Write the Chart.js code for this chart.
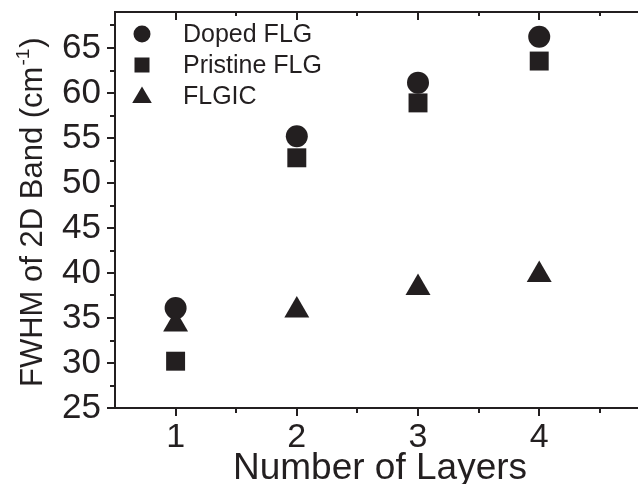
<!DOCTYPE html>
<html><head><meta charset="utf-8">
<script src="https://cdn.jsdelivr.net/npm/chart.js@4"></script>
<style>html,body{margin:0;padding:0;background:#fff}</style>
</head><body>
<canvas id="c" width="638" height="484"></canvas>
<script>
const layers = [1, 2, 3, 4];
const dopedFLG = [36.1, 55.2, 61.15, 66.25];
const pristineFLG = [30.2, 52.8, 58.9, 63.55];
const flgic = [34.3, 35.85, 38.35, 39.8];
const seriesNames = ['Doped FLG', 'Pristine FLG', 'FLGIC'];
const xMajorTicks = [1, 2, 3, 4];
const xMinorTicks = [1.5, 2.5, 3.5, 4.5];
const yMajorTicks = [25, 30, 35, 40, 45, 50, 55, 60, 65];
const yMinorTicks = [27.5, 32.5, 37.5, 42.5, 47.5, 52.5, 57.5, 62.5, 67.5];

const INK = '#231f20';
const FONT = '"Liberation Sans", Arial, Helvetica, sans-serif';

function pts(vals){ return layers.map((x,i)=>({x:x, y:vals[i]})); }

const frame = {
  id: 'frame',
  afterLayout(chart){
    const a = chart.chartArea, xs = chart.scales.x, ys = chart.scales.y;
    a.left = 115; a.top = 12; a.right = 638; a.bottom = 408;
    a.width = a.right - a.left; a.height = a.bottom - a.top;
    xs.left = 115; xs.right = 638; xs.width = xs.right - xs.left; xs.configure();
    ys.top = 12; ys.bottom = 408; ys.height = ys.bottom - ys.top; ys.configure();
  }
};

const decor = {
  id: 'decor',
  afterDraw(chart){
    const ctx = chart.ctx, a = chart.chartArea;
    const xs = chart.scales.x, ys = chart.scales.y;
    ctx.save();
    ctx.strokeStyle = INK; ctx.lineWidth = 2; ctx.lineCap = 'butt';
    ctx.beginPath();
    ctx.moveTo(a.left, a.top - 1); ctx.lineTo(a.left, a.bottom + 1);
    ctx.moveTo(a.left - 1, a.bottom); ctx.lineTo(638, a.bottom);
    ctx.moveTo(a.left - 1, a.top); ctx.lineTo(638, a.top);
    ctx.stroke();
    ctx.beginPath();
    xMajorTicks.forEach(v=>{ const p = Math.round(xs.getPixelForValue(v));
      ctx.moveTo(p, a.bottom); ctx.lineTo(p, a.bottom + 8);
      ctx.moveTo(p, a.top); ctx.lineTo(p, a.top + 8); });
    xMinorTicks.forEach(v=>{ const p = Math.round(xs.getPixelForValue(v));
      ctx.moveTo(p, a.bottom); ctx.lineTo(p, a.bottom + 5);
      ctx.moveTo(p, a.top); ctx.lineTo(p, a.top + 4); });
    yMajorTicks.forEach(v=>{ const p = Math.round(ys.getPixelForValue(v));
      ctx.moveTo(a.left, p); ctx.lineTo(a.left - 8, p); });
    yMinorTicks.forEach(v=>{ const p = Math.round(ys.getPixelForValue(v));
      ctx.moveTo(a.left, p); ctx.lineTo(a.left - 5, p); });
    ctx.stroke();

    ctx.fillStyle = INK;
    ctx.textBaseline = 'alphabetic';
    ctx.font = '37px ' + FONT;
    ctx.textAlign = 'center';
    ctx.fillText('Number of Layers', 380, 479);

    ctx.save();
    ctx.translate(42, 387);
    ctx.rotate(-Math.PI/2);
    ctx.textAlign = 'left';
    ctx.font = '31px ' + FONT;
    const t1 = 'FWHM of 2D Band (cm';
    ctx.fillText(t1, 0, 0);
    let w = ctx.measureText(t1).width;
    ctx.font = '19px ' + FONT;
    ctx.fillText('-1', w + 1, -13);
    w += ctx.measureText('-1').width + 2;
    ctx.font = '31px ' + FONT;
    ctx.fillText(')', w, 0);
    ctx.restore();

    ctx.font = '25px ' + FONT;
    ctx.textAlign = 'left';
    ctx.textBaseline = 'middle';
    const rows = [34, 65, 96];
    const mx = 142;
    ctx.beginPath(); ctx.arc(mx, rows[0], 8.5, 0, Math.PI*2); ctx.fill();
    ctx.fillRect(mx - 7.5, rows[1] - 7.5, 15, 15);
    ctx.beginPath();
    ctx.moveTo(mx, rows[2] - 9.5); ctx.lineTo(mx + 9.8, rows[2] + 7); ctx.lineTo(mx - 9.8, rows[2] + 7); ctx.closePath(); ctx.fill();
    seriesNames.forEach((n,i)=> ctx.fillText(n, 183, rows[i] + 1));
    ctx.restore();
  }
};

function zeroPad(s){ s.paddingTop = 0; s.paddingBottom = 0; s.paddingLeft = 0; s.paddingRight = 0; }

new Chart(document.getElementById('c'), {
  type: 'scatter',
  data: { datasets: [
    { label: seriesNames[0], data: pts(dopedFLG), pointStyle: 'circle', pointRadius: 11, backgroundColor: INK, borderWidth: 0 },
    { label: seriesNames[1], data: pts(pristineFLG), pointStyle: 'rect', pointRadius: 13.4, backgroundColor: INK, borderWidth: 0 },
    { label: seriesNames[2], data: pts(flgic), pointStyle: 'triangle', pointRadius: 14.4, backgroundColor: INK, borderWidth: 0 }
  ]},
  options: {
    responsive: false, animation: false, devicePixelRatio: 1,
    clip: false,
    layout: { padding: { top: 12, right: 0, left: 0, bottom: 0 } },
    plugins: { legend: { display: false }, tooltip: { enabled: false } },
    scales: {
      x: { type: 'linear', min: 0.5, max: 4.815,
        afterBuildTicks: s => { s.ticks = xMajorTicks.map(v=>({value:v})); },
        afterFit: s => { s.height = 76; zeroPad(s); },
        grid: { display: false, drawTicks: false }, border: { display: false },
        ticks: { color: INK, font: { family: FONT, size: 34 }, padding: 9, maxRotation: 0, autoSkip: false } },
      y: { type: 'linear', min: 25, max: 69,
        afterBuildTicks: s => { s.ticks = yMajorTicks.map(v=>({value:v})); },
        afterFit: s => { s.width = 115; zeroPad(s); },
        grid: { display: false, drawTicks: false }, border: { display: false },
        ticks: { color: INK, font: { family: FONT, size: 35 }, padding: 14, autoSkip: false } }
    }
  },
  plugins: [frame, decor]
});
</script>
</body></html>
